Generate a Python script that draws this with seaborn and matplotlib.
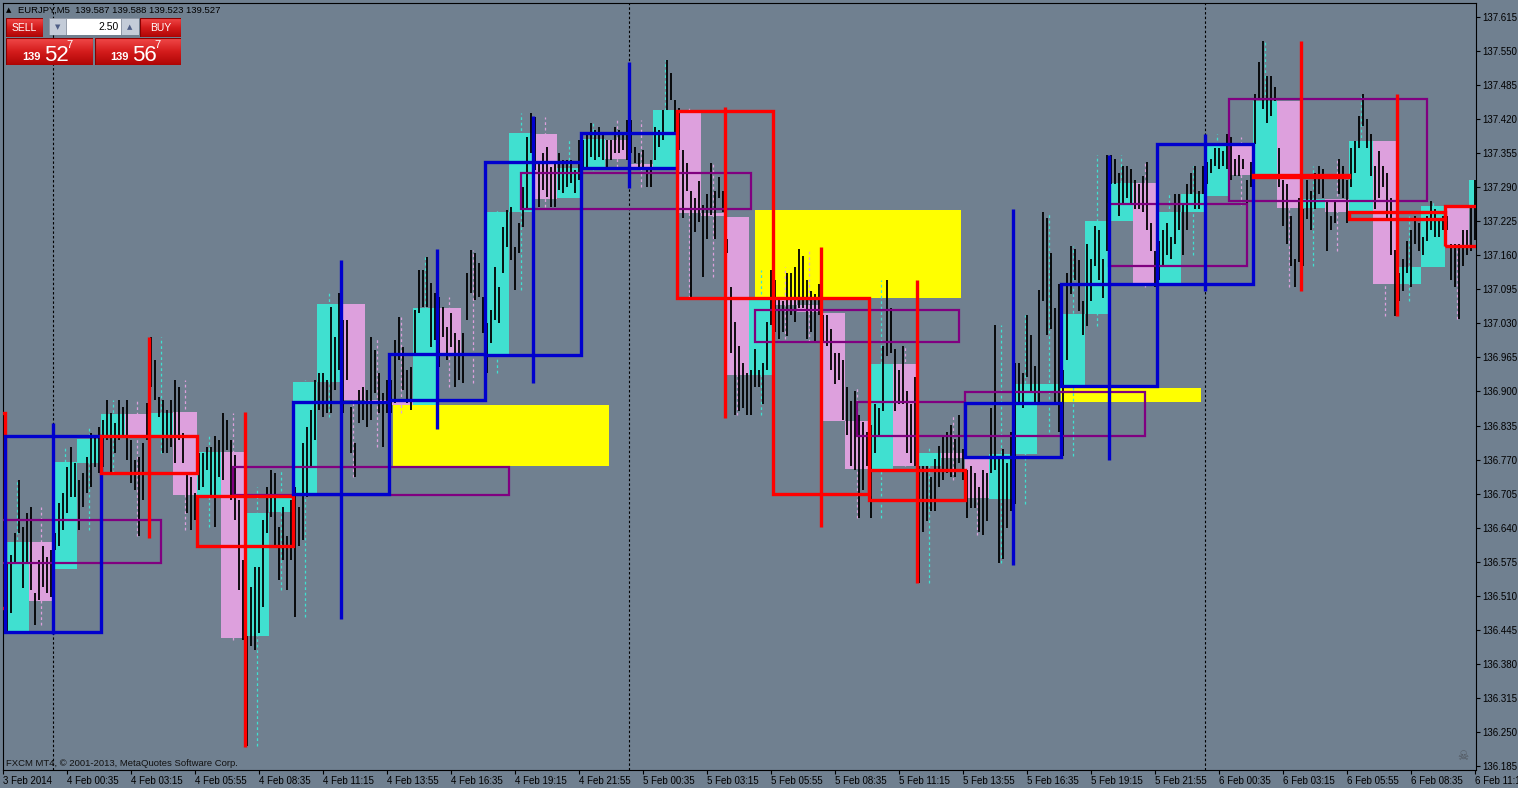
import numpy as np
import pandas as pd
import matplotlib
matplotlib.use("Agg")
import matplotlib.pyplot as plt
import seaborn as sns
from matplotlib.patches import Rectangle
from matplotlib.colors import LinearSegmentedColormap

# ----------------------------
# Data
# ----------------------------
# thin black price bars (one every 10 minutes, from 3 Feb 21:55)
bar_high = [
    136.527,
    136.572, 136.587, 136.630, 136.731, 136.642, 136.668,
    136.680, 136.515, 136.578, 136.604, 136.584, 136.597,
    136.630, 136.687, 136.706, 136.756, 136.794, 136.763,
    136.731, 136.744, 136.775, 136.821, 136.814, 136.833,
    136.846, 136.884, 136.859, 136.840, 136.884, 136.871,
    136.884, 136.807, 136.769, 136.775, 136.801, 136.878,
    137.004, 136.960, 136.890, 136.884, 136.865, 136.884,
    136.922, 136.909, 136.821, 136.744, 136.737, 136.706,
    136.782, 136.782, 136.794, 136.794, 136.814, 136.807,
    136.859, 136.846, 136.807, 136.778, 136.693, 136.578,
    136.432, 136.527, 136.565, 136.565, 136.655, 136.718,
    136.750, 136.744, 136.642, 136.680, 136.623, 136.693,
    136.718, 136.680, 136.801, 136.833, 136.865, 136.922,
    136.935, 136.935, 136.922, 137.062, 137.004, 137.088,
    137.037, 137.037, 136.871, 136.801, 136.903, 136.909,
    136.903, 137.004, 136.979, 136.935, 136.897, 136.922,
    136.922, 136.998, 137.043, 136.985, 136.941, 136.947,
    137.056, 137.132, 137.132, 137.157, 137.107, 137.088,
    137.081, 137.062, 137.024, 137.050, 137.011, 136.998,
    137.011, 137.126, 137.170, 137.164, 137.145, 137.081,
    137.031, 137.056, 137.138, 137.100, 137.214, 137.247,
    137.253, 137.176, 137.221, 137.291, 137.386, 137.431,
    137.424, 137.336, 137.355, 137.367, 137.329, 137.336,
    137.355, 137.342, 137.342, 137.342, 137.323, 137.380,
    137.380, 137.393, 137.412, 137.399, 137.405, 137.393,
    137.380, 137.380, 137.405, 137.399, 137.393, 137.418,
    137.418, 137.367, 137.355, 137.361, 137.329, 137.342,
    137.405, 137.399, 137.437, 137.533, 137.508, 137.457,
    137.442, 137.361, 137.336, 137.283, 137.270, 137.302,
    137.256, 137.277, 137.336, 137.283, 137.310, 137.283,
    137.191, 137.100, 137.033, 136.987, 136.954, 136.935,
    136.941, 136.981, 136.941, 136.954, 137.033, 137.132,
    137.113, 137.079, 137.073, 137.126, 137.126, 137.138,
    137.172, 137.159, 137.113, 137.092, 137.086, 137.105,
    137.046, 137.046, 137.020, 136.973, 136.973, 136.960,
    136.909, 136.882, 136.901, 136.855, 136.842, 136.823,
    136.836, 136.876, 136.869, 136.987, 137.113, 137.060,
    136.981, 136.941, 136.987, 136.901, 136.876, 136.928,
    136.758, 136.758, 136.758, 136.737, 136.771, 136.796,
    136.817, 136.823, 136.836, 136.809, 136.855, 136.790,
    136.750, 136.758, 136.744, 136.718, 136.750, 136.744,
    136.869, 137.027, 136.777, 136.790, 136.763, 136.823,
    136.954, 136.954, 136.935, 137.046, 137.007, 136.949,
    137.094, 137.243, 137.232, 137.164, 137.060, 137.105,
    136.941, 137.126, 137.178, 137.172, 137.151, 137.073,
    137.181, 137.153, 137.216, 137.208, 137.153, 137.351,
    137.351, 137.344, 137.317, 137.331, 137.331, 137.325,
    137.304, 137.296, 137.312, 137.338, 137.221, 137.168,
    137.187, 137.208, 137.221, 137.195, 137.277, 137.277,
    137.256, 137.296, 137.317, 137.331, 137.283, 137.331,
    137.338, 137.344, 137.365, 137.365, 137.359, 137.391,
    137.386, 137.344, 137.351, 137.344, 137.304, 137.338,
    137.468, 137.529, 137.569, 137.503, 137.503, 137.482,
    137.365, 137.304, 137.296, 137.236, 137.153, 137.270,
    137.249, 137.304, 137.283, 137.317, 137.331, 137.325,
    137.264, 137.236, 137.264, 137.344, 137.331, 137.304,
    137.365, 137.378, 137.426, 137.468, 137.420, 137.391,
    137.331, 137.359, 137.331, 137.317, 137.270, 137.170,
    137.126, 137.153, 137.187, 137.208, 137.236, 137.221,
    137.195, 137.236, 137.264, 137.249, 137.230, 137.236,
    137.236, 137.181, 137.181, 137.181, 137.208, 137.208,
    137.256, 137.304,
]
bar_low = [
    136.355,
    136.439, 136.477, 136.572, 136.630, 136.525, 136.572,
    136.521, 136.454, 136.502, 136.527, 136.515, 136.508,
    136.597, 136.604, 136.636, 136.668, 136.699, 136.699,
    136.636, 136.680, 136.706, 136.718, 136.756, 136.744,
    136.756, 136.807, 136.744, 136.782, 136.807, 136.814,
    136.769, 136.725, 136.712, 136.623, 136.693, 136.807,
    136.909, 136.884, 136.852, 136.782, 136.782, 136.794,
    136.763, 136.807, 136.763, 136.668, 136.636, 136.655,
    136.712, 136.718, 136.750, 136.699, 136.642, 136.737,
    136.731, 136.788, 136.693, 136.655, 136.521, 136.426,
    136.222, 136.413, 136.407, 136.439, 136.489, 136.630,
    136.661, 136.604, 136.540, 136.578, 136.521, 136.578,
    136.470, 136.604, 136.617, 136.699, 136.756, 136.807,
    136.865, 136.852, 136.859, 136.859, 136.903, 136.941,
    136.859, 136.922, 136.782, 136.737, 136.840, 136.846,
    136.833, 136.846, 136.897, 136.859, 136.794, 136.859,
    136.859, 136.878, 136.960, 136.903, 136.878, 136.865,
    136.973, 137.050, 137.062, 137.062, 136.985, 136.998,
    136.947, 137.004, 136.960, 136.985, 136.909, 136.922,
    136.916, 137.037, 137.088, 137.075, 137.081, 137.011,
    136.935, 136.992, 137.037, 137.031, 137.126, 137.176,
    137.151, 137.094, 137.164, 137.214, 137.247, 137.355,
    137.323, 137.253, 137.285, 137.272, 137.253, 137.253,
    137.285, 137.279, 137.291, 137.298, 137.279, 137.304,
    137.323, 137.323, 137.348, 137.342, 137.348, 137.342,
    137.329, 137.342, 137.355, 137.355, 137.361, 137.342,
    137.355, 137.336, 137.323, 137.329, 137.291, 137.291,
    137.342, 137.367, 137.380, 137.437, 137.457, 137.393,
    137.361, 137.232, 137.283, 137.079, 137.204, 137.223,
    137.119, 137.191, 137.237, 137.191, 137.270, 137.243,
    137.164, 136.973, 136.855, 136.863, 136.869, 136.855,
    136.855, 136.909, 136.909, 136.876, 136.941, 137.027,
    137.013, 137.000, 137.013, 137.006, 137.046, 137.033,
    137.060, 137.060, 137.000, 137.013, 136.994, 137.046,
    136.994, 136.987, 136.941, 136.914, 136.922, 136.846,
    136.817, 136.758, 136.750, 136.659, 136.712, 136.758,
    136.659, 136.782, 136.817, 136.863, 136.968, 136.973,
    136.863, 136.876, 136.876, 136.782, 136.763, 136.758,
    136.534, 136.632, 136.653, 136.672, 136.672, 136.718,
    136.731, 136.744, 136.737, 136.737, 136.763, 136.731,
    136.659, 136.678, 136.678, 136.632, 136.626, 136.653,
    136.744, 136.750, 136.572, 136.580, 136.640, 136.672,
    136.685, 136.876, 136.869, 136.928, 136.901, 136.876,
    136.876, 137.073, 137.007, 137.020, 136.876, 136.823,
    136.777, 136.960, 137.086, 137.113, 137.054, 137.007,
    137.026, 137.073, 137.140, 137.113, 137.079, 137.168,
    137.296, 137.296, 137.236, 137.256, 137.270, 137.256,
    137.249, 137.249, 137.243, 137.208, 137.168, 137.100,
    137.113, 137.140, 137.160, 137.153, 137.181, 137.208,
    137.160, 137.208, 137.277, 137.249, 137.249, 137.277,
    137.296, 137.317, 137.331, 137.325, 137.331, 137.325,
    137.304, 137.312, 137.312, 137.325, 137.256, 137.291,
    137.372, 137.461, 137.440, 137.412, 137.426, 137.455,
    137.291, 137.216, 137.181, 137.140, 137.100, 137.147,
    137.140, 137.230, 137.208, 137.249, 137.277, 137.270,
    137.168, 137.208, 137.221, 137.277, 137.270, 137.221,
    137.291, 137.317, 137.365, 137.407, 137.365, 137.312,
    137.249, 137.270, 137.291, 137.230, 137.160, 137.044,
    137.073, 137.092, 137.126, 137.100, 137.181, 137.168,
    137.160, 137.187, 137.208, 137.195, 137.195, 137.208,
    137.208, 137.113, 137.100, 137.039, 137.140, 137.160,
    137.168, 137.189,
]

# hourly candles (from 3 Feb 22:00)
h1_open = [
    136.443, 136.613, 136.561, 136.763, 136.814, 136.857, 136.814, 136.861,
    136.702, 136.784, 136.432, 136.670, 136.704, 136.918, 137.067, 136.884,
    136.882, 136.874, 137.060, 136.973, 136.972, 137.243, 137.391, 137.270,
    137.329, 137.380, 137.334, 137.329, 137.434, 137.241, 137.233, 136.932,
    137.079, 137.065, 137.050, 136.844, 136.752, 136.953, 136.758, 136.782,
    136.773, 136.695, 136.781, 136.901, 136.913, 137.048, 137.226, 137.298,
    137.107, 137.243, 137.273, 137.371, 137.313, 137.455, 137.250, 137.268,
    137.243, 137.378, 137.105, 137.138, 137.254, 137.252,
]
h1_close = [
    136.613, 136.500, 136.765, 136.809, 136.857, 136.814, 136.859, 136.702,
    136.784, 136.430, 136.668, 136.699, 136.918, 137.067, 136.884, 136.882,
    136.874, 137.060, 136.973, 136.970, 137.243, 137.393, 137.268, 137.327,
    137.382, 137.344, 137.329, 137.437, 137.241, 137.236, 136.932, 137.079,
    137.065, 137.052, 136.844, 136.752, 136.953, 136.758, 136.782, 136.773,
    136.697, 136.781, 136.914, 136.914, 137.048, 137.226, 137.298, 137.107,
    137.243, 137.277, 137.373, 137.313, 137.455, 137.250, 137.268, 137.243,
    137.378, 137.105, 137.138, 137.254, 137.178, 137.304,
]

# four-hour candles (from 3 Feb 18:00)
h4_open = [136.859, 136.441, 136.814, 136.701, 136.704, 136.884, 136.970, 137.327, 137.436,
           137.079, 136.750, 136.775, 136.911, 137.105, 137.313, 137.243, 137.254]
h4_close = [136.487, 136.814, 136.744, 136.604, 136.880, 136.972, 137.338, 137.393, 137.079,
            136.704, 136.693, 136.878, 137.105, 137.373, 137.310, 137.230, 137.178]
h4_high = [136.880, 136.840, 137.004, 136.861, 137.151, 137.172, 137.426, 137.529, 137.443,
           137.176, 137.113, 137.249, 137.351, 137.391, 137.569, 137.468, 137.254]
h4_low = [136.470, 136.437, 136.620, 136.220, 136.466, 136.829, 136.916, 137.289, 136.850,
          136.642, 136.534, 136.569, 136.769, 137.092, 137.092, 137.044, 137.039]

# purple range boxes
range_start = ["2014-02-03 19:50", "2014-02-04 07:30", "2014-02-04 19:30", "2014-02-05 05:15",
               "2014-02-05 09:30", "2014-02-05 14:00", "2014-02-05 20:00", "2014-02-06 01:00"]
range_end = ["2014-02-04 04:30", "2014-02-04 19:00", "2014-02-05 05:05", "2014-02-05 13:45",
             "2014-02-05 14:00", "2014-02-05 21:30", "2014-02-06 01:45", "2014-02-06 09:15"]
range_top = [136.655, 136.756, 137.317, 137.056, 136.880, 136.899, 137.258, 137.459]
range_bottom = [136.572, 136.702, 137.249, 136.994, 136.814, 136.815, 137.140, 137.264]

# yellow zones
zone_start = ["2014-02-04 14:10", "2014-02-05 05:15", "2014-02-05 18:00"]
zone_end = ["2014-02-04 23:10", "2014-02-05 13:50", "2014-02-05 23:50"]
zone_top = [136.874, 137.247, 136.907]
zone_bottom = [136.758, 137.079, 136.880]

day_breaks = ["2014-02-04 00:00", "2014-02-05 00:00", "2014-02-06 00:00"]

price_ticks = [137.615, 137.550, 137.485, 137.420, 137.355, 137.290, 137.225, 137.160,
               137.095, 137.030, 136.965, 136.900, 136.835, 136.770, 136.705, 136.640,
               136.575, 136.510, 136.445, 136.380, 136.315, 136.250, 136.185]
time_ticks = ["2014-02-03 21:55", "2014-02-04 00:35", "2014-02-04 03:15", "2014-02-04 05:55",
              "2014-02-04 08:35", "2014-02-04 11:15", "2014-02-04 13:55", "2014-02-04 16:35",
              "2014-02-04 19:15", "2014-02-04 21:55", "2014-02-05 00:35", "2014-02-05 03:15",
              "2014-02-05 05:55", "2014-02-05 08:35", "2014-02-05 11:15", "2014-02-05 13:55",
              "2014-02-05 16:35", "2014-02-05 19:15", "2014-02-05 21:55", "2014-02-06 00:35",
              "2014-02-06 03:15", "2014-02-06 05:55", "2014-02-06 08:35", "2014-02-06 11:15"]
time_labels = ["3 Feb 2014", "4 Feb 00:35", "4 Feb 03:15", "4 Feb 05:55", "4 Feb 08:35",
               "4 Feb 11:15", "4 Feb 13:55", "4 Feb 16:35", "4 Feb 19:15", "4 Feb 21:55",
               "5 Feb 00:35", "5 Feb 03:15", "5 Feb 05:55", "5 Feb 08:35", "5 Feb 11:15",
               "5 Feb 13:55", "5 Feb 16:35", "5 Feb 19:15", "5 Feb 21:55", "6 Feb 00:35",
               "6 Feb 03:15", "6 Feb 05:55", "6 Feb 08:35", "6 Feb 11:15"]

# ----------------------------
# Helpers: time -> bar index (M5 bars since 4 Feb 00:00)
# ----------------------------
T0 = pd.Timestamp("2014-02-04 00:00")


def to_bar(t):
    return (pd.to_datetime(t) - T0) / pd.Timedelta(minutes=5)


bar_x = np.array(to_bar(pd.date_range("2014-02-03 21:55", periods=len(bar_high), freq="10min")))
h1_x = np.array(to_bar(pd.date_range("2014-02-03 22:00", periods=len(h1_open), freq="h")))
h4_x = np.array(to_bar(pd.date_range("2014-02-03 18:00", periods=len(h4_open), freq="4h")))
bar_high = np.array(bar_high)
bar_low = np.array(bar_low)

BG = "#708090"
UP, DOWN = "#40e0d0", "#dda0dd"
sns.set_style("ticks", {"axes.facecolor": BG, "figure.facecolor": BG,
                        "axes.edgecolor": "black", "xtick.color": "black", "ytick.color": "black"})
plt.rcParams["font.family"] = ["Liberation Sans", "DejaVu Sans"]

W, H = 1518, 788
fig = plt.figure(figsize=(W / 100, H / 100), dpi=100)
ax = fig.add_axes([2.5 / W, 18 / H, (1476 - 2.5) / W, (770 - 3) / H])
ax.set_xlim(-25.25, 711.5)
ax.set_ylim(136.177, 137.642)

# yellow zones
for s, e, t, b in zip(zone_start, zone_end, zone_top, zone_bottom):
    ax.add_patch(Rectangle((to_bar(s), b), to_bar(e) - to_bar(s), t - b,
                           facecolor="#ffff00", edgecolor="none", zorder=1))

# hourly candles: filled bodies + dashed wicks
for x, o, c in zip(h1_x, h1_open, h1_close):
    col = UP if c >= o else DOWN
    m = (bar_x >= x) & (bar_x < x + 12)
    if m.any():
        ax.vlines(x + 6, bar_low[m].min(), bar_high[m].max(), colors=col,
                  linewidth=0.9, linestyles=(0, (2.2, 2.2)), zorder=1.5)
    ax.add_patch(Rectangle((x, min(o, c)), 12, max(abs(c - o), 0.0025),
                           facecolor=col, edgecolor="none", zorder=2))

# M5 bars
ax.vlines(bar_x, bar_low, bar_high, colors="black", linewidth=1.3, zorder=3)

# purple ranges
for s, e, t, b in zip(range_start, range_end, range_top, range_bottom):
    ax.add_patch(Rectangle((to_bar(s), b), to_bar(e) - to_bar(s), t - b,
                           fill=False, edgecolor="#800080", linewidth=1.6, zorder=4))

# four-hour candles: outline boxes + thick wick
for x, o, hi, lo, c in zip(h4_x, h4_open, h4_high, h4_low, h4_close):
    col = "#0000cd" if c >= o else "#ff0000"
    ax.vlines(x + 24, lo, hi, colors=col, linewidth=2.4, zorder=5)
    ax.add_patch(Rectangle((x, min(o, c)), 48, max(abs(c - o), 0.001),
                           fill=False, edgecolor=col, linewidth=2.4, zorder=5))

# day separators
for d in day_breaks:
    ax.axvline(to_bar(d), color="black", linewidth=0.8, linestyle=(0, (2.2, 2.0)), zorder=0.5)

# axes / ticks
ax.yaxis.tick_right()
ax.set_yticks(price_ticks)
ax.set_yticklabels([f"{p:.3f}" for p in price_ticks])
ax.set_xticks([to_bar(t) for t in time_ticks])
ax.set_xticklabels(time_labels, ha="left")
ax.tick_params(axis="both", direction="out", length=3, width=0.8, pad=1.5,
               labelsize=7, labelcolor="black")
for sp in ax.spines.values():
    sp.set_linewidth(0.8)
    sp.set_color("black")
ax.grid(False)


# ----------------------------
# Trading panel and captions (figure pixel positions)
# ----------------------------
def fx(x):
    return x / W


def fy(y):
    return 1 - y / H


red_cmap = LinearSegmentedColormap.from_list("btn", ["#f04848", "#d41c1c", "#b00606"])


def button(x0, y0, x1, y1):
    bax = fig.add_axes([fx(x0), fy(y1), (x1 - x0) / W, (y1 - y0) / H])
    bax.imshow(np.linspace(0, 1, 32).reshape(-1, 1), cmap=red_cmap, aspect="auto",
               extent=[0, 1, 0, 1])
    bax.add_patch(Rectangle((0, 0), 1, 1, transform=bax.transAxes, fill=False,
                            edgecolor="#8a0000", linewidth=0.8))
    bax.set_axis_off()


button(6, 18, 43, 37)
button(140, 18, 181, 37)
button(6, 38, 93, 65)
button(95, 38, 181, 65)

# lot spinner
spin = fig.add_axes([fx(49), fy(35), 90 / W, 17 / H])
spin.set_xlim(49, 139)
spin.set_ylim(35, 18)
spin.add_patch(Rectangle((49, 18), 17, 17, facecolor="#c4ccd8", edgecolor="#8d96a4", linewidth=0.6))
spin.add_patch(Rectangle((66, 18), 55, 17, facecolor="white", edgecolor="#8d96a4", linewidth=0.6))
spin.add_patch(Rectangle((121, 18), 18, 17, facecolor="#c4ccd8", edgecolor="#8d96a4", linewidth=0.6))
spin.set_axis_off()

fig.text(fx(57.5), fy(27), "▼", color="#4e5e86", fontsize=5, ha="center", va="center",
         family=["DejaVu Sans"])
fig.text(fx(130), fy(27), "▲", color="#4e5e86", fontsize=5, ha="center", va="center",
         family=["DejaVu Sans"])
fig.text(fx(119), fy(27), "2.50", color="black", fontsize=7.5, ha="right", va="center")
fig.text(fx(24.5), fy(28), "SELL", color="white", fontsize=7.5, ha="center", va="center")
fig.text(fx(160.5), fy(28), "BUY", color="white", fontsize=7.5, ha="center", va="center")

for x_small, x_big, big in [(22, 44, "52"), (110, 132, "56")]:
    fig.text(fx(x_small), fy(60), "139", color="white", fontsize=8, fontweight="bold",
             ha="left", va="baseline")
    fig.text(fx(x_big), fy(61), big, color="white", fontsize=16, ha="left", va="baseline")
    fig.text(fx(x_big + 22), fy(40), "7", color="white", fontsize=8, ha="left", va="top")

fig.text(fx(6), fy(10), "▲", color="black", fontsize=5, ha="left", va="center",
         family=["DejaVu Sans"])
fig.text(fx(18), fy(10), "EURJPY,M5  139.587 139.588 139.523 139.527", color="black",
         fontsize=6.8, ha="left", va="center")
fig.text(fx(6), fy(763), "FXCM MT4, © 2001-2013, MetaQuotes Software Corp.", color="#111111",
         fontsize=6.8, ha="left", va="center")
fig.text(fx(1463), fy(756), "☠", color="#50565e", fontsize=9, ha="center", va="center",
         family=["DejaVu Sans"])

fig.savefig("out.png", dpi=100, facecolor=BG)
